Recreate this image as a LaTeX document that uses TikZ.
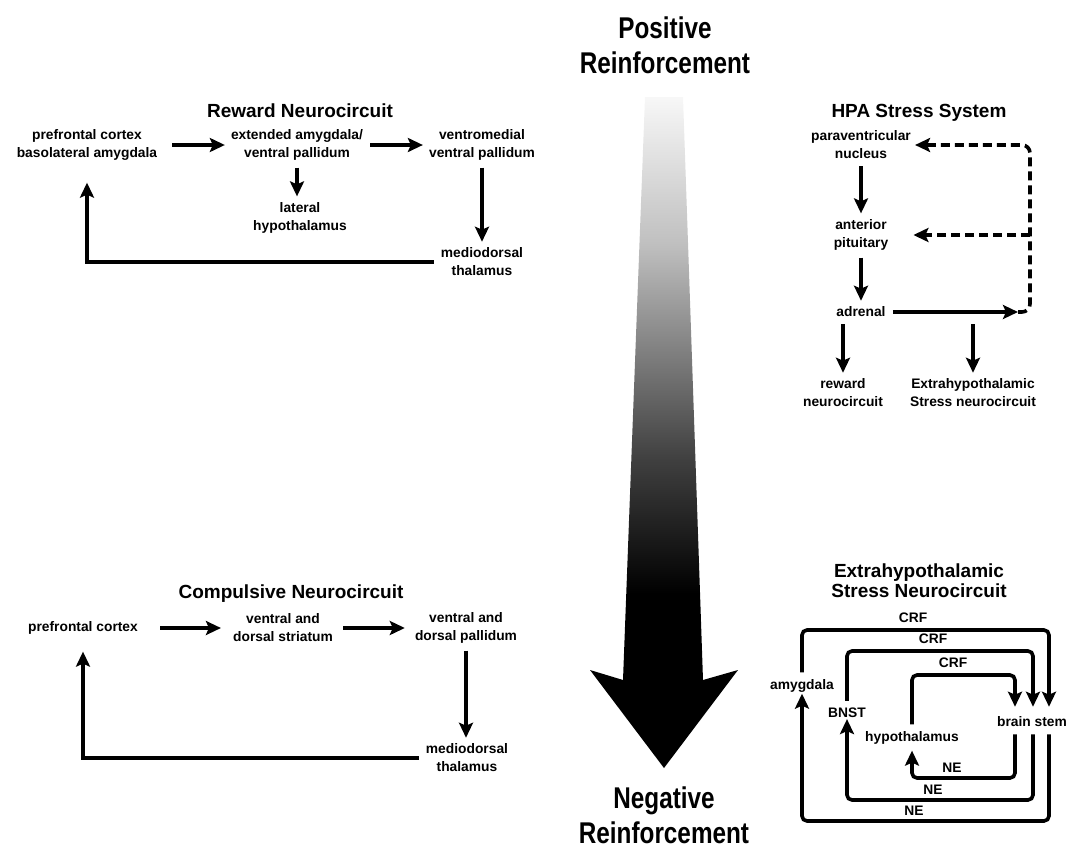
\documentclass[tikz,border=0pt]{standalone}
\usepackage{fontspec}
\setmainfont{Liberation Sans}
\usetikzlibrary{arrows.meta,positioning,calc}

\pgfdeclareverticalshading{arrowfade}{100bp}{color(0bp)=(black); color(38bp)=(black); color(48bp)=(black!75); color(56bp)=(black!50); color(64bp)=(black!25); color(75bp)=(black!3); color(100bp)=(black!3)}

\tikzset{
    region/.style={align=center, font=\fontsize{13.8}{18}\selectfont\bfseries, inner sep=4pt},
    title/.style={align=center, font=\fontsize{19}{20}\selectfont\bfseries},
    big/.style={align=center, font=\fontsize{30}{35}\selectfont\bfseries, xscale=0.81},
    sig/.style={font=\fontsize{13.8}{16}\selectfont\bfseries, inner sep=0pt},
    line/.style={draw, -{Stealth[length=15pt,width=14pt,inset=3pt]}, line width=3.6pt, shorten <=3pt, shorten >=2pt},
    dline/.style={line, dash pattern=on 9pt off 5pt},
    loopline/.style={line, rounded corners=5pt, shorten >=6pt}
}

\begin{document}
\begin{tikzpicture}[x=1pt, y=-1pt]
    \useasboundingbox (0,0) rectangle (1069,849);

    % big arrow
    \shade [shading=arrowfade] (645,97) -- (683,97) -- (703,680) -- (738,670) -- (664,768) -- (590,670) -- (623,680) -- cycle;
    \node [big] (posr) at (665,45) {Positive\\Reinforcement};
    \node [big] (negr) at (664,815) {Negative\\Reinforcement};

    % reward neurocircuit
    \node [title, anchor=base] (rtitle) at (300,117) {Reward Neurocircuit};
    \node [region] (pfc) at (87,145) {prefrontal cortex\\basolateral amygdala};
    \node [region] (extamy) at (297,145) {extended amygdala/\\ventral pallidum};
    \node [region] (vmvp) at (482,145) {ventromedial\\ventral pallidum};
    \node [region] (lathyp) at (300,218) {lateral\\hypothalamus};
    \node [region] (mdthal) at (482,262) {mediodorsal\\thalamus};

    \path [line, shorten <=11pt] (pfc) -- (extamy);
    \path [line] (extamy) -- (vmvp);
    \path [line] (extamy.south) -- (extamy.south |- lathyp.north);
    \path [line] (vmvp) -- (mdthal);
    \path [line, shorten >=18pt] (mdthal.west) -| (pfc.south);

    % compulsive neurocircuit
    \node [title, anchor=base] (ctitle) at (291,598) {Compulsive Neurocircuit};
    \node [region] (cpfc) at (83,628) {prefrontal cortex};
    \node [region] (cstri) at (283,628) {ventral and\\dorsal striatum};
    \node [region] (cpall) at (466,628) {ventral and\\dorsal pallidum};
    \node [region] (cmd) at (467,758) {mediodorsal\\thalamus};

    \path [line, shorten <=18pt, shorten >=8pt] (cpfc) -- (cstri);
    \path [line, shorten <=6pt, shorten >=6pt] (cstri) -- (cpall);
    \path [line] (cpall.south) -- (cpall.south |- cmd.north);
    \path [line, shorten >=13pt] (cmd.west) -| (cpfc.south);

    % HPA stress system
    \node [title, anchor=base] (htitle) at (919,117) {HPA Stress System};
    \node [region] (pvn) at (861,145) {paraventricular\\nucleus};
    \node [region] (antpit) at (861,235) {anterior\\pituitary};
    \node [region] (adrenal) at (861,312) {adrenal};
    \node [region] (rewnc) at (843,393) {reward\\neurocircuit};
    \node [region] (extnc) at (973,393) {Extrahypothalamic\\Stress neurocircuit};
    \coordinate (fb) at (1018,312);
    \coordinate (fbx) at (1030,312);

    \path [line] (pvn) -- (antpit);
    \path [line] (antpit) -- (adrenal);
    \path [line, shorten >=0pt] (adrenal) -- (fb);
    \path [dline, rounded corners=8pt, shorten <=0pt, shorten >=0pt] (fb) -| (fbx |- pvn.east) -- (pvn.east);
    \path [dline, shorten <=0pt, shorten >=21pt] (fbx |- antpit.east) -- (antpit.east);
    \path [line] (rewnc.north |- adrenal.south) -- (rewnc.north);
    \path [line] (extnc.north |- adrenal.south) -- (extnc.north);

    % extrahypothalamic stress neurocircuit
    \node [title] (etitle) at (919,581) {Extrahypothalamic\\Stress Neurocircuit};
    \node [region] (amyg) at (802,686) {amygdala};
    \node [region] (bnst) at (847,713) {BNST};
    \node [region] (hypo) at (912,738) {hypothalamus};
    \node [region] (bstem) at (1032,722) {brain stem};

    \coordinate (crf1) at (913,630);
    \coordinate (crf2) at (933,651);
    \coordinate (crf3) at (953,675);
    \coordinate (ne1) at (952,778);
    \coordinate (ne2) at (933,800);
    \coordinate (ne3) at (914,821);
    \node [sig, above=7pt of crf1] (crf1l) {CRF};
    \node [sig, above=7pt of crf2] (crf2l) {CRF};
    \node [sig, above=7pt of crf3] (crf3l) {CRF};
    \node [sig, above=5pt of ne1] (ne1l) {NE};
    \node [sig, above=5pt of ne2] (ne2l) {NE};
    \node [sig, above=5pt of ne3] (ne3l) {NE};

    \path [loopline] (amyg.north) |- (crf1) -| ([xshift=17pt]bstem.north);
    \path [loopline] (bnst.north) |- (crf2) -| ([xshift=1pt]bstem.north);
    \path [loopline] (hypo.north) |- (crf3) -| ([xshift=-17pt]bstem.north);
    \path [loopline, shorten >=2pt] ([xshift=-17pt]bstem.south) |- (ne1) -| (hypo.south);
    \path [loopline, shorten >=-3pt] ([xshift=1pt]bstem.south) |- (ne2) -| (bnst.south);
    \path [loopline, shorten >=-3pt] ([xshift=17pt]bstem.south) |- (ne3) -| (amyg.south);
\end{tikzpicture}
\end{document}
